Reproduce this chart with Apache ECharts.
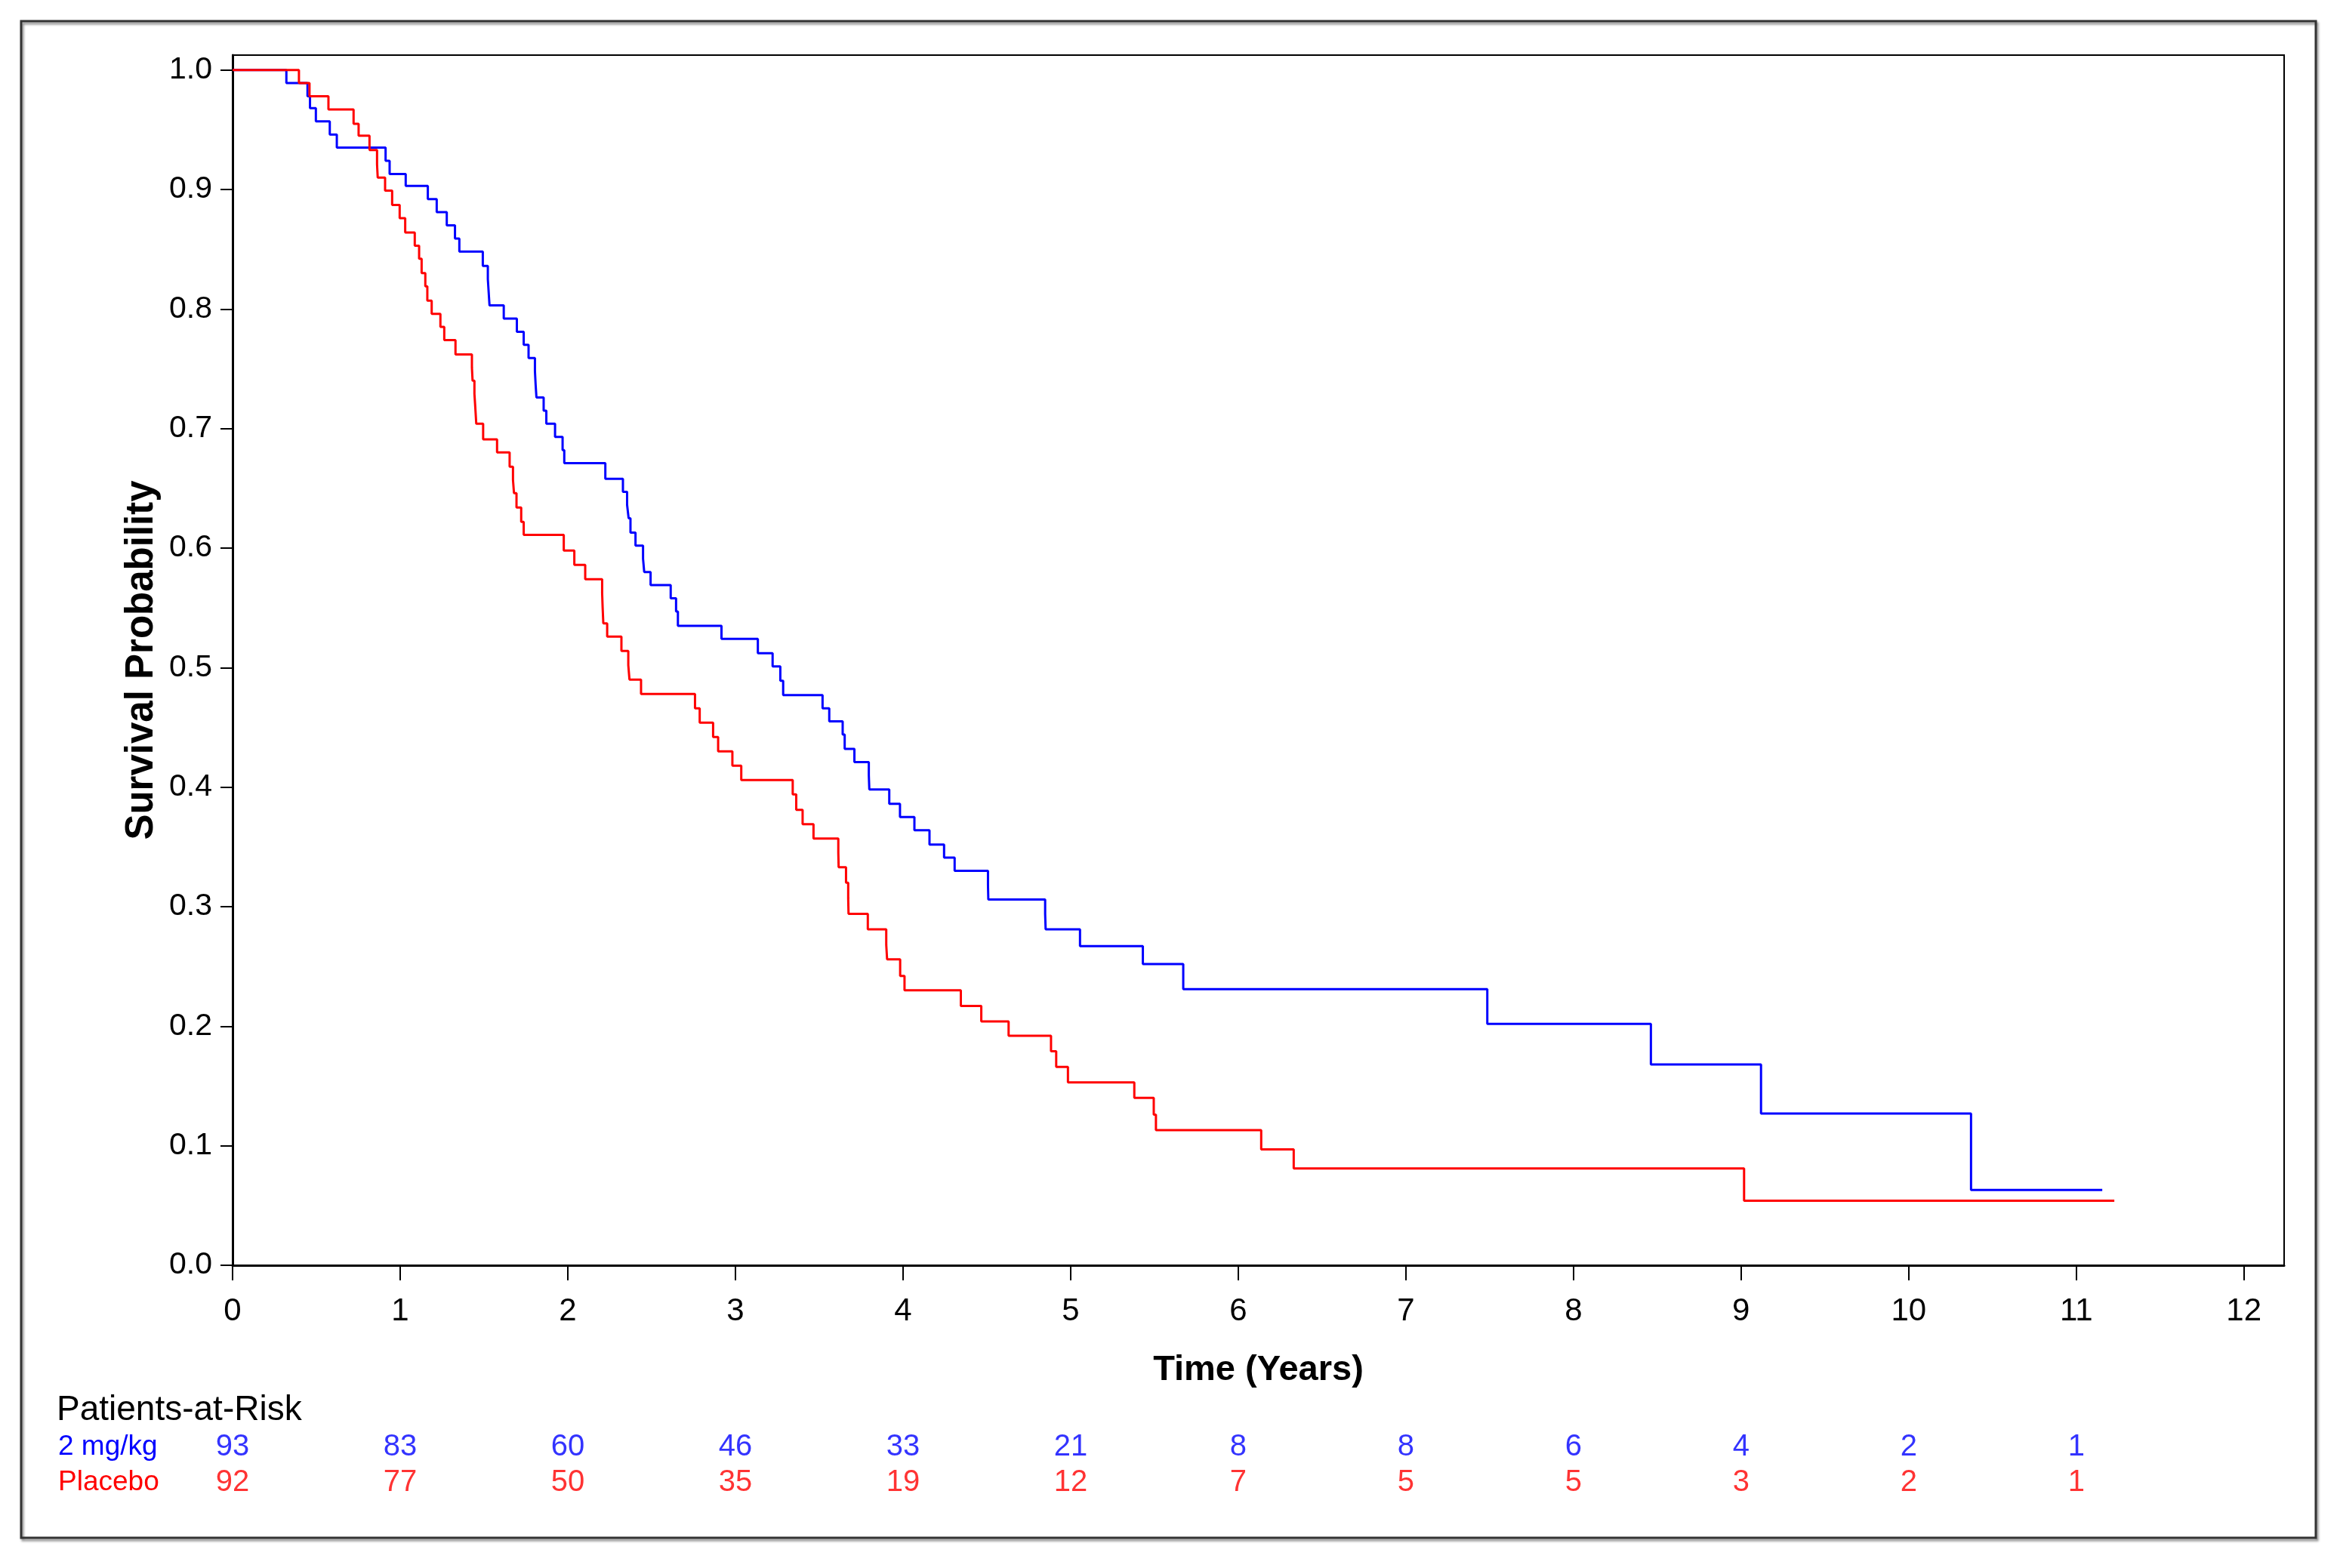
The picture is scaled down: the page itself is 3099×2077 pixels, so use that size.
<!DOCTYPE html>
<html>
<head>
<meta charset="utf-8">
<script src="https://cdn.jsdelivr.net/npm/echarts@6/dist/echarts.min.js"></script>
<style>
html,body{margin:0;padding:0;background:#fff;}
#chart{width:3099px;height:2077px;}
</style>
</head>
<body>
<div id="chart"></div>
<script>
// ---- data ----
const timeTicks = [0,1,2,3,4,5,6,7,8,9,10,11,12];
const survTicks = [0,0.1,0.2,0.3,0.4,0.5,0.6,0.7,0.8,0.9,1.0];

const blueName = '2 mg/kg';
const redName = 'Placebo';

const blueTimes = [0,0.321,0.447,0.462,0.497,0.580,0.622,0.913,0.937,1.033,1.165,1.218,1.278,1.327,1.353,1.493,1.523,1.528,1.533,1.618,1.696,1.737,1.766,1.804,1.808,1.813,1.856,1.872,1.924,1.969,1.979,2.224,2.329,2.354,2.363,2.374,2.404,2.449,2.456,2.494,2.614,2.646,2.657,2.917,3.134,3.222,3.268,3.285,3.520,3.560,3.640,3.652,3.710,3.796,3.799,3.918,3.982,4.068,4.158,4.245,4.308,4.507,4.509,4.848,4.851,5.056,5.431,5.672,7.486,8.462,9.119,10.372,11.155];
const blueSurv  = [1,0.989,0.978,0.968,0.957,0.946,0.935,0.924,0.913,0.903,0.892,0.881,0.870,0.859,0.848,0.836,0.825,0.814,0.803,0.792,0.781,0.770,0.759,0.748,0.737,0.726,0.715,0.704,0.693,0.682,0.671,0.658,0.647,0.636,0.625,0.613,0.602,0.591,0.580,0.569,0.558,0.547,0.535,0.524,0.512,0.501,0.489,0.477,0.466,0.455,0.444,0.432,0.421,0.410,0.398,0.386,0.375,0.364,0.352,0.341,0.330,0.318,0.306,0.294,0.281,0.267,0.252,0.231,0.202,0.168,0.127,0.063,0.063];

const redTimes = [0,0.396,0.459,0.572,0.722,0.752,0.817,0.862,0.866,0.910,0.952,0.997,1.030,1.087,1.113,1.128,1.150,1.162,1.188,1.240,1.263,1.330,1.428,1.432,1.443,1.448,1.454,1.495,1.578,1.653,1.673,1.679,1.694,1.722,1.737,1.976,2.039,2.104,2.205,2.208,2.212,2.235,2.320,2.361,2.368,2.437,2.759,2.787,2.867,2.897,2.982,3.035,3.342,3.363,3.401,3.466,3.614,3.616,3.660,3.673,3.675,3.790,3.900,3.905,3.983,4.009,4.345,4.467,4.630,4.883,4.914,4.984,5.380,5.496,5.509,6.137,6.331,9.018,11.227];
const redSurv  = [1,0.989,0.978,0.967,0.955,0.945,0.933,0.921,0.910,0.899,0.887,0.876,0.864,0.853,0.842,0.830,0.819,0.807,0.796,0.785,0.774,0.762,0.751,0.740,0.729,0.718,0.704,0.691,0.680,0.668,0.657,0.646,0.634,0.622,0.611,0.598,0.586,0.574,0.562,0.550,0.537,0.526,0.514,0.502,0.490,0.478,0.466,0.454,0.442,0.430,0.418,0.406,0.394,0.381,0.369,0.357,0.345,0.333,0.320,0.307,0.294,0.281,0.268,0.256,0.242,0.230,0.217,0.204,0.192,0.179,0.166,0.153,0.140,0.126,0.113,0.097,0.081,0.054,0.054];

const riskTimes = [0,1,2,3,4,5,6,7,8,9,10,11];
const blueRisk = [93,83,60,46,33,21,8,8,6,4,2,1];
const redRisk  = [92,77,50,35,19,12,7,5,5,3,2,1];

// ---- build ----
const FONT = '"Liberation Sans", Arial, Helvetica, sans-serif';
const BLUE = '#0000ff', RED = '#ff0000';
const zip = (a, b) => a.map((v, i) => [v, b[i]]);
const xMax = 12.24, yMax = 1.0124;

const chart = echarts.init(document.getElementById('chart'), null, {renderer: 'canvas'});

const option = {
  backgroundColor: '#fff',
  animation: false,
  grid: [
    {left: 308, right: 74, top: 73, bottom: 401, show: true, borderColor: '#000', borderWidth: 2, containLabel: false},
    {left: 308, right: 74, top: 1893, height: 94, show: false}
  ],
  xAxis: [
    {
      type: 'value', gridIndex: 0, min: 0, max: xMax,
      name: 'Time (Years)', nameLocation: 'middle', nameGap: 116,
      nameTextStyle: {fontFamily: FONT, fontSize: 47, fontWeight: 'bold', color: '#000'},
      axisLine: {show: true, onZero: false, lineStyle: {color: '#000', width: 3}},
      axisTick: {show: true, length: 20, lineStyle: {color: '#000', width: 2}, customValues: timeTicks},
      axisLabel: {fontFamily: FONT, fontSize: 42, color: '#000', margin: 40, customValues: timeTicks},
      splitLine: {show: false}
    },
    {
      type: 'value', gridIndex: 1, min: 0, max: xMax, show: false
    }
  ],
  yAxis: [
    {
      type: 'value', gridIndex: 0, min: 0, max: yMax,
      name: 'Survival Probability', nameLocation: 'middle', nameGap: 87, nameRotate: 90,
      nameTextStyle: {fontFamily: FONT, fontSize: 51, fontWeight: 'bold', color: '#000'},
      axisLine: {show: true, onZero: false, lineStyle: {color: '#000', width: 3}},
      axisTick: {show: true, length: 16, lineStyle: {color: '#000', width: 2}, customValues: survTicks},
      axisLabel: {fontFamily: FONT, fontSize: 41, color: '#000', margin: 27, customValues: survTicks,
                  formatter: v => Number(v).toFixed(1)},
      splitLine: {show: false}
    },
    {
      type: 'category', gridIndex: 1, data: [blueName, redName], inverse: true,
      axisLine: {show: false}, axisTick: {show: false}, splitLine: {show: false},
      axisLabel: {fontFamily: FONT, fontSize: 37, align: 'left', margin: 231, interval: 0, hideOverlap: false,
                  color: (v) => v === blueName ? BLUE : RED}
    }
  ],
  series: [
    {
      name: blueName, type: 'line', xAxisIndex: 0, yAxisIndex: 0, step: 'end',
      symbol: 'none', data: zip(blueTimes, blueSurv),
      lineStyle: {color: BLUE, width: 3}, itemStyle: {color: BLUE}, silent: true, z: 3
    },
    {
      name: redName, type: 'line', xAxisIndex: 0, yAxisIndex: 0, step: 'end',
      symbol: 'none', data: zip(redTimes, redSurv),
      lineStyle: {color: RED, width: 3}, itemStyle: {color: RED}, silent: true, z: 4
    },
    {
      type: 'scatter', xAxisIndex: 1, yAxisIndex: 1, symbolSize: 1, silent: true,
      itemStyle: {color: 'rgba(0,0,0,0)'},
      data: riskTimes.map((t, i) => [t, 0, blueRisk[i]]),
      label: {show: true, position: 'inside', formatter: p => String(p.value[2]),
              color: BLUE, fontFamily: FONT, fontSize: 40}
    },
    {
      type: 'scatter', xAxisIndex: 1, yAxisIndex: 1, symbolSize: 1, silent: true,
      itemStyle: {color: 'rgba(0,0,0,0)'},
      data: riskTimes.map((t, i) => [t, 1, redRisk[i]]),
      label: {show: true, position: 'inside', formatter: p => String(p.value[2]),
              color: RED, fontFamily: FONT, fontSize: 40}
    }
  ],
  graphic: [
    {
      type: 'rect', z: 0, silent: true,
      shape: {x: 28, y: 28, width: 3039, height: 2009},
      style: {fill: 'none', stroke: '#333', lineWidth: 3,
              shadowBlur: 3, shadowOffsetX: 2, shadowOffsetY: 3, shadowColor: 'rgba(0,0,0,0.45)'}
    },
    {
      type: 'text', silent: true, x: 75, y: 1868,
      style: {text: 'Patients-at-Risk', font: '46px ' + FONT, fill: '#000',
              verticalAlign: 'middle', textVerticalAlign: 'middle'}
    }
  ]
};
chart.setOption(option);
</script>
</body>
</html>
